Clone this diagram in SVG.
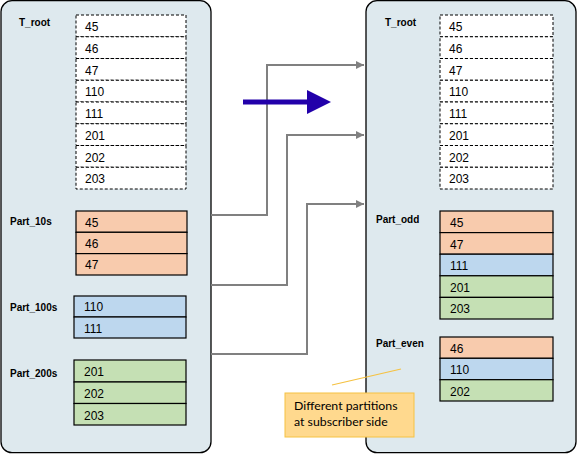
<svg xmlns="http://www.w3.org/2000/svg" width="577" height="454" viewBox="0 0 577 454">
<defs>
<style>
.panel{fill:#dee9ee;stroke:#000;stroke-width:1.3}
.lbl{font-family:"Liberation Sans",Arial,sans-serif;font-size:10px;font-weight:bold;fill:#000}
.num{font-family:"Liberation Sans",Arial,sans-serif;font-size:12px;fill:#000}
.dash{fill:#fff;stroke:#000;stroke-width:1;stroke-dasharray:3,2}
.or{fill:#f8cbad;stroke:#000;stroke-width:1.2}
.bl{fill:#bdd7ee;stroke:#000;stroke-width:1.2}
.gr{fill:#c5e0b4;stroke:#000;stroke-width:1.2}
.conn{fill:none;stroke:#808080;stroke-width:2}
.note{font-family:"Lato","Open Sans",sans-serif;font-size:12.3px;fill:#000}
</style>
<marker id="ga" viewBox="0 0 10 10" refX="10" refY="5" markerWidth="8" markerHeight="9" orient="auto" markerUnits="userSpaceOnUse">
<path d="M0,0 L10,5 L0,10 z" fill="#808080"/>
</marker>
</defs>

<g id="left-panel">
<rect class="panel" x="1" y="0.7" width="210" height="452" rx="11"/>
</g>
<g id="right-panel">
<rect class="panel" x="366" y="0.7" width="210" height="452" rx="11"/>
</g>

<g id="left-troot">
<text class="lbl" x="19" y="26">T_root</text>
<rect class="dash" x="76" y="15" width="110" height="21.75"/>
<rect class="dash" x="76" y="36.75" width="110" height="21.75"/>
<rect class="dash" x="76" y="58.5" width="110" height="21.75"/>
<rect class="dash" x="76" y="80.25" width="110" height="21.75"/>
<rect class="dash" x="76" y="102" width="110" height="21.75"/>
<rect class="dash" x="76" y="123.75" width="110" height="21.75"/>
<rect class="dash" x="76" y="145.5" width="110" height="21.75"/>
<rect class="dash" x="76" y="167.25" width="110" height="21.75"/>
<text class="num" x="85" y="31">45</text>
<text class="num" x="85" y="53">46</text>
<text class="num" x="85" y="75">47</text>
<text class="num" x="85" y="96">110</text>
<text class="num" x="85" y="118">111</text>
<text class="num" x="85" y="140">201</text>
<text class="num" x="85" y="162">202</text>
<text class="num" x="85" y="183">203</text>
</g>

<g id="part-10s">
<text class="lbl" x="10" y="225">Part_10s</text>
<rect class="or" x="76" y="211" width="111" height="21.3"/>
<rect class="or" x="76" y="232.3" width="111" height="21.3"/>
<rect class="or" x="76" y="253.6" width="111" height="21.4"/>
<text class="num" x="85" y="227">45</text>
<text class="num" x="85" y="248">46</text>
<text class="num" x="85" y="269">47</text>
</g>

<g id="part-100s">
<text class="lbl" x="10" y="311">Part_100s</text>
<rect class="bl" x="74" y="296" width="112" height="21"/>
<rect class="bl" x="74" y="317" width="112" height="21"/>
<text class="num" x="84" y="311">110</text>
<text class="num" x="84" y="333">111</text>
</g>

<g id="part-200s">
<text class="lbl" x="10" y="377">Part_200s</text>
<rect class="gr" x="74" y="360" width="112" height="22"/>
<rect class="gr" x="74" y="382" width="112" height="21.5"/>
<rect class="gr" x="74" y="403.5" width="112" height="21.5"/>
<text class="num" x="84" y="376">201</text>
<text class="num" x="84" y="398">202</text>
<text class="num" x="84" y="420">203</text>
</g>

<g id="right-troot">
<text class="lbl" x="385" y="26">T_root</text>
<rect class="dash" x="440" y="15" width="113" height="21.75"/>
<rect class="dash" x="440" y="36.75" width="113" height="21.75"/>
<rect class="dash" x="440" y="58.5" width="113" height="21.75"/>
<rect class="dash" x="440" y="80.25" width="113" height="21.75"/>
<rect class="dash" x="440" y="102" width="113" height="21.75"/>
<rect class="dash" x="440" y="123.75" width="113" height="21.75"/>
<rect class="dash" x="440" y="145.5" width="113" height="21.75"/>
<rect class="dash" x="440" y="167.25" width="113" height="21.75"/>
<text class="num" x="449" y="31">45</text>
<text class="num" x="449" y="53">46</text>
<text class="num" x="449" y="75">47</text>
<text class="num" x="449" y="96">110</text>
<text class="num" x="449" y="118">111</text>
<text class="num" x="449" y="140">201</text>
<text class="num" x="449" y="162">202</text>
<text class="num" x="449" y="183">203</text>
</g>

<g id="part-odd">
<text class="lbl" x="376" y="223">Part_odd</text>
<rect class="or" x="440" y="211" width="113" height="21.6"/>
<rect class="or" x="440" y="232.6" width="113" height="21.6"/>
<rect class="bl" x="440" y="254.2" width="113" height="21.6"/>
<rect class="gr" x="440" y="275.8" width="113" height="21.6"/>
<rect class="gr" x="440" y="297.4" width="113" height="21.6"/>
<text class="num" x="450" y="227">45</text>
<text class="num" x="450" y="249">47</text>
<text class="num" x="450" y="270">111</text>
<text class="num" x="450" y="292">201</text>
<text class="num" x="450" y="313">203</text>
</g>

<g id="part-even">
<text class="lbl" x="376" y="347">Part_even</text>
<rect class="or" x="440" y="337" width="113" height="21.3"/>
<rect class="bl" x="440" y="358.3" width="113" height="21.4"/>
<rect class="gr" x="440" y="379.7" width="113" height="21.3"/>
<text class="num" x="450" y="353">46</text>
<text class="num" x="450" y="374">110</text>
<text class="num" x="450" y="396">202</text>
</g>

<g id="connectors">
<polyline class="conn" points="211,215 267,215 267,65 364,65" marker-end="url(#ga)"/>
<polyline class="conn" points="211,285 287,285 287,135 364,135" marker-end="url(#ga)"/>
<polyline class="conn" points="211,354 307,354 307,204 364,204" marker-end="url(#ga)"/>
<line x1="243" y1="102" x2="309" y2="102" stroke="#2200aa" stroke-width="5"/>
<path d="M307,90 L331,102 L307,114 z" fill="#2200aa"/>
<line x1="332" y1="385" x2="401" y2="369" stroke="#f5c242" stroke-width="1.2"/>
</g>

<g id="callout">
<rect x="285" y="393" width="129" height="44" fill="#ffd98e" stroke="#f5c242" stroke-width="1"/>
<text class="note" x="294" y="410">Different partitions</text>
<text class="note" x="294" y="425.5">at subscriber side</text>
</g>
</svg>
